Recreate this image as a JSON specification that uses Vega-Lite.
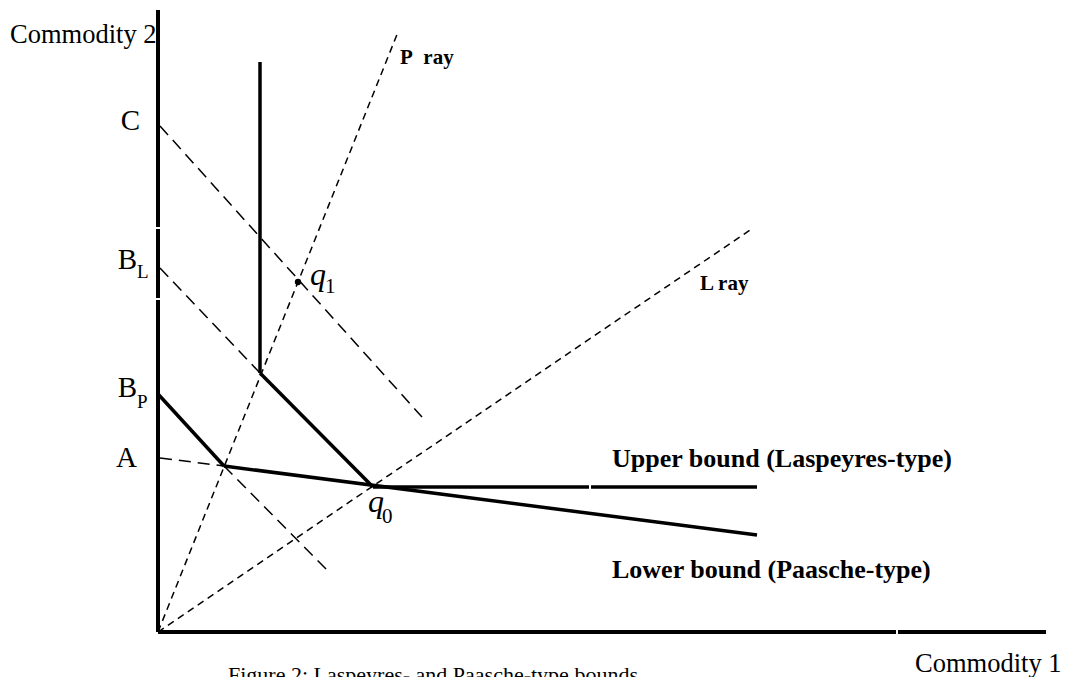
{
  "$schema": "https://vega.github.io/schema/vega-lite/v6.json",
  "width": 1066,
  "height": 677,
  "padding": 0,
  "autosize": {"type": "none"},
  "background": "white",
  "config": {"view": {"stroke": null}},
  "datasets": {
    "segs": [
      {"kind": "axis", "x": 0, "y": 0, "x2": 0, "y2": 332},
      {"kind": "axis", "x": 0, "y": 334, "x2": 0, "y2": 403},
      {"kind": "axis", "x": 0, "y": 405, "x2": 0, "y2": 622},
      {"kind": "axis", "x": 0, "y": 0, "x2": 738, "y2": 0},
      {"kind": "axis", "x": 740, "y": 0, "x2": 888, "y2": 0},
      {"kind": "bound", "x": 102, "y": 570, "x2": 102, "y2": 259},
      {"kind": "bound", "x": 102, "y": 259, "x2": 215, "y2": 145},
      {"kind": "bound", "x": 0, "y": 238, "x2": 66, "y2": 166},
      {"kind": "bound", "x": 66, "y": 166, "x2": 599, "y2": 97},
      {"kind": "bound", "x": 215, "y": 145, "x2": 431, "y2": 145},
      {"kind": "bound", "x": 433, "y": 145, "x2": 599, "y2": 145},
      {"kind": "budget", "x": 2, "y": 506, "x2": 264, "y2": 215},
      {"kind": "budget", "x": 2, "y": 364, "x2": 102, "y2": 259},
      {"kind": "budget", "x": 2, "y": 174, "x2": 66, "y2": 166},
      {"kind": "budget", "x": 66, "y": 166, "x2": 170, "y2": 61},
      {"kind": "ray", "x": 0, "y": 0, "x2": 240, "y2": 600},
      {"kind": "ray", "x": 0, "y": 0, "x2": 595, "y2": 404}
    ],
    "points": [
      {"name": "q1", "x": 140, "y": 350},
      {"name": "q0", "x": 215, "y": 145}
    ],
    "labels": [
      {"kind": "main", "text": "C", "x": -18, "y": 502},
      {"kind": "main", "text": "B", "x": -21, "y": 363},
      {"kind": "main", "text": "B", "x": -21, "y": 235},
      {"kind": "main", "text": "A", "x": -21, "y": 165},
      {"kind": "sub", "text": "L", "x": -21, "y": 354},
      {"kind": "sub", "text": "P", "x": -21, "y": 224},
      {"kind": "axislab", "text": "Commodity 2", "x": -148, "y": 589},
      {"kind": "axislab", "text": "Commodity 1", "x": 757, "y": -40},
      {"kind": "caption", "text": "Figure 2:  Laspeyres- and Paasche-type bounds", "x": 70, "y": -50},
      {"kind": "bold", "text": "Upper bound (Laspeyres-type)", "x": 454, "y": 165},
      {"kind": "bold", "text": "Lower bound (Paasche-type)", "x": 454, "y": 54},
      {"kind": "ray", "text": "P\u00a0 ray", "x": 242, "y": 568},
      {"kind": "ray", "text": "L ray", "x": 542, "y": 342},
      {"kind": "q", "text": "q", "x": 152, "y": 347},
      {"kind": "q", "text": "q", "x": 210, "y": 120},
      {"kind": "qsub", "text": "1", "x": 167, "y": 339},
      {"kind": "qsub", "text": "0", "x": 224, "y": 109}
    ]
  },
  "encoding": {
    "x": {"field": "x", "type": "quantitative", "scale": {"domain": [-158, 908], "nice": false, "zero": false}, "axis": null},
    "y": {"field": "y", "type": "quantitative", "scale": {"domain": [-45, 632], "nice": false, "zero": false}, "axis": null}
  },
  "layer": [
    {
      "data": {"name": "segs"},
      "transform": [{"filter": "datum.kind === 'budget'"}],
      "mark": {"type": "rule", "strokeWidth": 1.5, "strokeDash": [12, 7], "color": "black"},
      "encoding": {"x2": {"field": "x2"}, "y2": {"field": "y2"}}
    },
    {
      "data": {"name": "segs"},
      "transform": [{"filter": "datum.kind === 'ray'"}],
      "mark": {"type": "rule", "strokeWidth": 1.5, "strokeDash": [7, 5], "color": "black"},
      "encoding": {"x2": {"field": "x2"}, "y2": {"field": "y2"}}
    },
    {
      "data": {"name": "segs"},
      "transform": [{"filter": "datum.kind === 'bound'"}],
      "mark": {"type": "rule", "strokeWidth": 3.5, "color": "black"},
      "encoding": {"x2": {"field": "x2"}, "y2": {"field": "y2"}}
    },
    {
      "data": {"name": "segs"},
      "transform": [{"filter": "datum.kind === 'axis'"}],
      "mark": {"type": "rule", "strokeWidth": 4, "color": "black"},
      "encoding": {"x2": {"field": "x2"}, "y2": {"field": "y2"}}
    },
    {
      "data": {"name": "points"},
      "transform": [{"filter": "datum.name === 'q1'"}],
      "mark": {"type": "point", "filled": true, "size": 40, "color": "black", "opacity": 1}
    },
    {
      "data": {"name": "labels"},
      "transform": [{"filter": "datum.kind === 'main'"}],
      "mark": {"type": "text", "align": "right", "baseline": "alphabetic", "font": "Liberation Serif", "fontSize": 29, "color": "black"},
      "encoding": {"text": {"field": "text"}}
    },
    {
      "data": {"name": "labels"},
      "transform": [{"filter": "datum.kind === 'sub'"}],
      "mark": {"type": "text", "align": "left", "baseline": "alphabetic", "font": "Liberation Serif", "fontSize": 19, "color": "black"},
      "encoding": {"text": {"field": "text"}}
    },
    {
      "data": {"name": "labels"},
      "transform": [{"filter": "datum.kind === 'axislab'"}],
      "mark": {"type": "text", "align": "left", "baseline": "alphabetic", "font": "Liberation Serif", "fontSize": 26.5, "color": "black"},
      "encoding": {"text": {"field": "text"}}
    },
    {
      "data": {"name": "labels"},
      "transform": [{"filter": "datum.kind === 'caption'"}],
      "mark": {"type": "text", "align": "left", "baseline": "alphabetic", "font": "Liberation Serif", "fontSize": 22, "color": "black"},
      "encoding": {"text": {"field": "text"}}
    },
    {
      "data": {"name": "labels"},
      "transform": [{"filter": "datum.kind === 'bold'"}],
      "mark": {"type": "text", "align": "left", "baseline": "alphabetic", "font": "Liberation Serif", "fontWeight": "bold", "fontSize": 26, "color": "black"},
      "encoding": {"text": {"field": "text"}}
    },
    {
      "data": {"name": "labels"},
      "transform": [{"filter": "datum.kind === 'ray'"}],
      "mark": {"type": "text", "align": "left", "baseline": "alphabetic", "font": "Liberation Serif", "fontWeight": "bold", "fontSize": 21, "color": "black"},
      "encoding": {"text": {"field": "text"}}
    },
    {
      "data": {"name": "labels"},
      "transform": [{"filter": "datum.kind === 'q'"}],
      "mark": {"type": "text", "align": "left", "baseline": "alphabetic", "font": "Liberation Serif", "fontStyle": "italic", "fontSize": 32, "color": "black"},
      "encoding": {"text": {"field": "text"}}
    },
    {
      "data": {"name": "labels"},
      "transform": [{"filter": "datum.kind === 'qsub'"}],
      "mark": {"type": "text", "align": "left", "baseline": "alphabetic", "font": "Liberation Serif", "fontSize": 21, "color": "black"},
      "encoding": {"text": {"field": "text"}}
    }
  ]
}
